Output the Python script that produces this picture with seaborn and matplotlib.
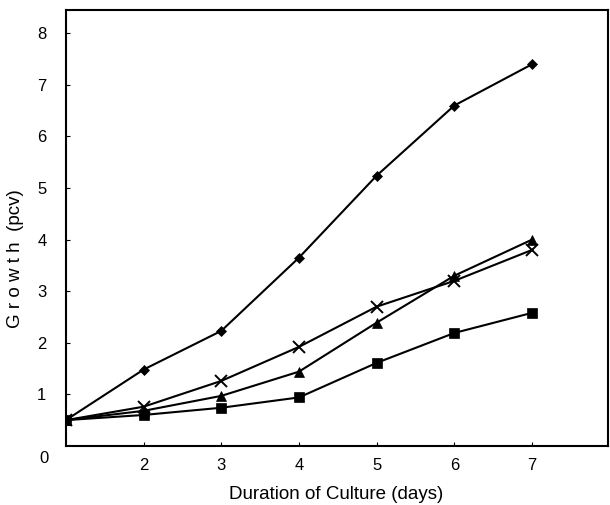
import matplotlib
matplotlib.use("Agg")
import matplotlib.pyplot as plt
import seaborn as sns
import pandas as pd

days = [1, 2, 3, 4, 5, 6, 7]
diamond = [0.5, 1.48, 2.23, 3.65, 5.24, 6.60, 7.40]
cross = [0.5, 0.76, 1.26, 1.92, 2.70, 3.20, 3.80]
triangle = [0.5, 0.68, 0.97, 1.44, 2.39, 3.30, 4.00]
square = [0.5, 0.60, 0.74, 0.94, 1.61, 2.19, 2.58]
xticks = [2, 3, 4, 5, 6, 7]
yticks = [1, 2, 3, 4, 5, 6, 7, 8]

series = {"diamond": diamond, "cross": cross, "triangle": triangle, "square": square}
df = pd.DataFrame(
    [(d, name, v) for name, vals in series.items() for d, v in zip(days, vals)],
    columns=["day", "series", "growth"],
)

sns.set_theme(style="white")
plt.rcParams["font.family"] = ["Liberation Sans", "DejaVu Sans"]

fig = plt.figure(figsize=(6.10, 5.05), dpi=100)
ax = fig.add_axes([0.108, 0.117, 0.889, 0.863])

markers = {"diamond": "D", "cross": "x", "triangle": "^", "square": "s"}
sizes = {"diamond": 5.5, "cross": 8, "triangle": 7, "square": 6.5}
for name in series:
    sub = df[df["series"] == name]
    sns.lineplot(data=sub, x="day", y="growth", ax=ax, color="black",
                 marker=markers[name], markersize=sizes[name],
                 markeredgecolor="black", markerfacecolor="black",
                 markeredgewidth=1.4 if name == "cross" else 0.5,
                 linewidth=1.5, legend=False)

ax.set_xlim(1, 7.98)
ax.set_ylim(0, 8.45)
ax.set_xticks(xticks)
ax.set_yticks(yticks)
ax.tick_params(axis="both", direction="in", length=3, width=0.8,
               labelsize=12, colors="black")
ax.tick_params(axis="y", pad=14)
ax.tick_params(axis="x", pad=9)
ax.tick_params(left=True, bottom=True)
for s in ax.spines.values():
    s.set_visible(True)
    s.set_color("black")
    s.set_linewidth(1.5)

ax.set_xlabel("Duration of Culture (days)", fontsize=13.5, color="black")
ax.set_ylabel("G r o w t h  (pcv)", fontsize=13.5, color="black")
ax.xaxis.set_label_coords(0.498, -0.093)
ax.yaxis.set_label_coords(-0.078, 0.43)
ax.annotate("0", xy=(0, 0), xycoords="axes fraction", xytext=(-22, -13),
            textcoords="offset pixels", ha="center", va="center",
            fontsize=12, color="black")
ax.grid(False)

fig.savefig("out.png", dpi=100)
